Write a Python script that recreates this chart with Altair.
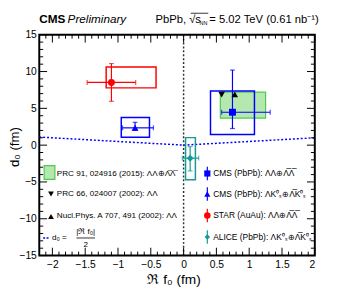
import altair as alt
import pandas as pd
import numpy as np

# ---------------- data ----------------
exp_names = ["CMS LL", "CMS LK", "STAR", "ALICE"]
exp_colors = ["#0000ff", "#0000ff", "#ff0000", "#149a94"]
exp_shapes = ["square", "triangle-up", "circle", "diamond"]
exp_sizes = [50, 50, 60, 40]
exp_x = [0.745, -0.74, -1.10, 0.10]
exp_y = [4.47, 2.35, 8.52, -1.77]
exp_xlo = [0.58, -0.93, -1.47, -0.02]
exp_xhi = [1.32, -0.46, -0.73, 0.23]
exp_ylo = [2.26, 2.00, 5.96, -3.50]
exp_yhi = [10.20, 3.10, 11.08, -0.20]
sys_xlo = [0.41, -0.95, -1.18, 0.03]
sys_xhi = [1.08, -0.52, -0.42, 0.18]
sys_ylo = [1.46, 1.06, 7.78, -4.70]
sys_yhi = [7.35, 3.75, 10.61, 1.02]

th_box_x = [0.56, 1.25]
th_box_y = [3.68, 7.20]
th_names = ["PRC 66", "NPA 707"]
th_shapes = ["triangle-down", "triangle-up"]
th_x = [0.58, 0.78]
th_y = [6.86, 6.90]

line_x = [-2.2, 0.0, 2.0]
line_y = [1.10, 0.0, 1.00]

x_major = [-2, -1.5, -1, -0.5, 0, 0.5, 1, 1.5, 2]
y_major = [-15, -10, -5, 0, 5, 10, 15]
x_minor = [round(v, 1) for v in np.arange(-2.1, 2.0, 0.1) if abs(v * 2 - round(v * 2)) > 1e-6]
y_minor = [v for v in range(-14, 15) if v % 5 != 0]

W, H = 282, 226
FONT = "Liberation Sans"

exp = pd.DataFrame({
    "name": exp_names, "x": exp_x, "y": exp_y,
    "xlo": exp_xlo, "xhi": exp_xhi, "ylo": exp_ylo, "yhi": exp_yhi,
    "bxlo": sys_xlo, "bxhi": sys_xhi, "bylo": sys_ylo, "byhi": sys_yhi,
})
box = pd.DataFrame({"x": [th_box_x[0]], "x2": [th_box_x[1]], "y": [th_box_y[0]], "y2": [th_box_y[1]]})
line = pd.DataFrame({"x": line_x, "y": line_y})
one = pd.DataFrame({"a": [0]})

xs = alt.Scale(domain=[-2.2, 2], nice=False, zero=False)
ys = alt.Scale(domain=[-15, 15], nice=False, zero=False)
XAX = alt.Axis(values=x_major, format="~g", ticks=False, domain=False, grid=False,
               labelFontSize=10.5, labelPadding=4, title=None, labelFont=FONT, labelColor="black")
YAX = alt.Axis(values=y_major, format="~g", ticks=False, domain=False, grid=False,
               labelFontSize=10.5, labelPadding=3, title=None, labelFont=FONT, labelColor="black")


def X(f):
    return alt.X(f, type="quantitative", scale=xs, axis=XAX)


def Y(f):
    return alt.Y(f, type="quantitative", scale=ys, axis=YAX)


ecol = alt.Color("name:N", scale=alt.Scale(domain=exp_names, range=exp_colors), legend=None)

layers = []

# theory green box
layers.append(alt.Chart(box).mark_rect(fill="#b5e8ae", stroke="#4fc94f", strokeWidth=1.2).encode(
    x=X("x"), x2="x2", y=Y("y"), y2="y2"))

# dotted curve d0 = |Re f0|/2
layers.append(alt.Chart(line).mark_line(color="#0000ff", strokeDash=[2, 2], strokeWidth=1.5).encode(
    x=X("x"), y=Y("y")))

# vertical dotted line at 0
layers.append(alt.Chart(pd.DataFrame({"x": [0.0]})).mark_rule(color="#333333", strokeDash=[2, 2], strokeWidth=1.5).encode(
    x=X("x")))

# systematic boxes
layers.append(alt.Chart(exp).mark_rect(fillOpacity=0, strokeWidth=1.5).encode(
    x=X("bxlo"), x2="bxhi", y=Y("bylo"), y2="byhi",
    stroke=alt.Stroke("name:N", scale=alt.Scale(domain=exp_names, range=exp_colors), legend=None)))

# error bars
layers.append(alt.Chart(exp).mark_rule(strokeWidth=1.2).encode(x=X("xlo"), x2="xhi", y=Y("y"), color=ecol))
layers.append(alt.Chart(exp).mark_rule(strokeWidth=1.2).encode(x=X("x"), y=Y("ylo"), y2="yhi", color=ecol))
for f in ["xlo", "xhi"]:
    layers.append(alt.Chart(exp).mark_tick(orient="vertical", size=5, thickness=1.2).encode(x=X(f), y=Y("y"), color=ecol))
for f in ["ylo", "yhi"]:
    layers.append(alt.Chart(exp).mark_tick(orient="horizontal", size=5, thickness=1.2).encode(x=X("x"), y=Y(f), color=ecol))

# experimental points
layers.append(alt.Chart(exp).mark_point(filled=True, opacity=1).encode(
    x=X("x"), y=Y("y"), color=ecol,
    shape=alt.Shape("name:N", scale=alt.Scale(domain=exp_names, range=exp_shapes), legend=None),
    size=alt.Size("name:N", scale=alt.Scale(domain=exp_names, range=exp_sizes), legend=None)))

# theory points (one layer per shape)
for nm, shp, tx, ty in zip(th_names, th_shapes, th_x, th_y):
    d = pd.DataFrame({"name": [nm], "x": [tx], "y": [ty]})
    layers.append(alt.Chart(d).mark_point(filled=True, opacity=1, color="black", size=45, shape=shp).encode(
        x=X("x"), y=Y("y")))

# inward ticks on all four sides
MJ, MN = 8, 4
for vals, ln in [(x_major, MJ), (x_minor, MN)]:
    d = pd.DataFrame({"t": vals})
    layers.append(alt.Chart(d).mark_rule(color="black", strokeWidth=1).encode(x=X("t"), y=alt.value(H), y2=alt.value(H - ln)))
    layers.append(alt.Chart(d).mark_rule(color="black", strokeWidth=1).encode(x=X("t"), y=alt.value(0), y2=alt.value(ln)))
for vals, ln in [(y_major, MJ), (y_minor, MN)]:
    d = pd.DataFrame({"t": vals})
    layers.append(alt.Chart(d).mark_rule(color="black", strokeWidth=1).encode(y=Y("t"), x=alt.value(0), x2=alt.value(ln)))
    layers.append(alt.Chart(d).mark_rule(color="black", strokeWidth=1).encode(y=Y("t"), x=alt.value(W), x2=alt.value(W - ln)))


def txt(s, x, y, size=8.3, align="left", baseline="middle", weight="normal", style="normal", angle=0, color="black"):
    kw = dict(align=align, baseline=baseline, fontSize=size, font=FONT, fontWeight=weight,
              fontStyle=style, color=color)
    if angle:
        kw["angle"] = angle
    return alt.Chart(one).mark_text(**kw).encode(x=alt.value(x), y=alt.value(y), text=alt.value(s))


def sym(shape, x, y, color, size=45):
    return alt.Chart(one).mark_point(filled=True, opacity=1, shape=shape, color=color, size=size).encode(
        x=alt.value(x), y=alt.value(y))


def seg(x1, y1, x2, y2, color, width=1.2, dash=None):
    kw = dict(color=color, strokeWidth=width)
    if dash:
        kw["strokeDash"] = dash
    return alt.Chart(one).mark_rule(**kw).encode(x=alt.value(x1), x2=alt.value(x2), y=alt.value(y1), y2=alt.value(y2))


LL = "ΛΛ⊕Λ̅Λ̅"
LK = "ΛK⁰ₛ⊕Λ̅K⁰ₛ"

# left legend column
layers.append(alt.Chart(one).mark_rect(fill="#b5e8ae", stroke="#4fc94f", strokeWidth=1.2).encode(
    x=alt.value(5), x2=alt.value(16), y=alt.value(134), y2=alt.value(148)))
layers.append(txt("PRC 91, 024916 (2015): " + LL, 18, 143))
layers.append(sym("triangle-down", 12, 163, "black", 35))
layers.append(txt("PRC 66, 024007 (2002): ΛΛ", 18, 163))
layers.append(sym("triangle-up", 12, 186, "black", 35))
layers.append(txt("Nucl.Phys. A 707, 491 (2002): ΛΛ", 18, 186))
layers.append(seg(4, 208, 11, 208, "#0000ff", 1.5, [2, 1.5]))
layers.append(txt("d₀ =", 13, 208))
layers.append(txt("|ℜ f₀|", 47.5, 201.5, align="center"))
layers.append(seg(38, 208, 57, 208, "black", 0.8))
layers.append(txt("2", 47.5, 215, align="center"))

# right legend column
for (shape, color, label, yy, sz) in [
    ("square", "#0000ff", "CMS (PbPb): " + LL, 142, 40),
    ("triangle-up", "#0000ff", "CMS (PbPb): " + LK, 163, 40),
    ("circle", "#ff0000", "STAR (AuAu): " + LL, 185, 45),
    ("diamond", "#149a94", "ALICE (PbPb): " + LK, 207, 32),
]:
    layers.append(seg(172, yy - 7, 172, yy + 7, color, 1.2))
    layers.append(sym(shape, 172, yy, color, sz))
    layers.append(txt(label, 178, yy, size=8.6))

# header
layers.append(txt("CMS", 0, -12, size=12, baseline="alphabetic", weight="bold"))
layers.append(txt("Preliminary", 29, -12, size=12, baseline="alphabetic", style="italic"))
layers.append(txt("PbPb, √s", 119, -12, size=11.5, baseline="alphabetic"))
layers.append(seg(155, -22, 173, -22, "black", 0.8))
layers.append(txt("NN", 164, -10, size=5.5, baseline="alphabetic"))
layers.append(txt("= 5.02 TeV (0.61 nb⁻¹)", 174, -12, size=11.5, baseline="alphabetic"))

# axis titles
layers.append(txt("ℜ f₀ (fm)", 138, 251, size=14, align="center"))
layers.append(txt("d₀ (fm)", -25, 115, size=13.5, align="center", angle=270))

chart = alt.layer(*layers).properties(
    width=W, height=H,
    padding={"left": 32, "top": 24, "right": 35, "bottom": 37},
    autosize=alt.AutoSizeParams(type="none"),
).configure_view(stroke="black", strokeWidth=2)

chart.save("out.html", embed_options={"renderer": "svg", "actions": False})
